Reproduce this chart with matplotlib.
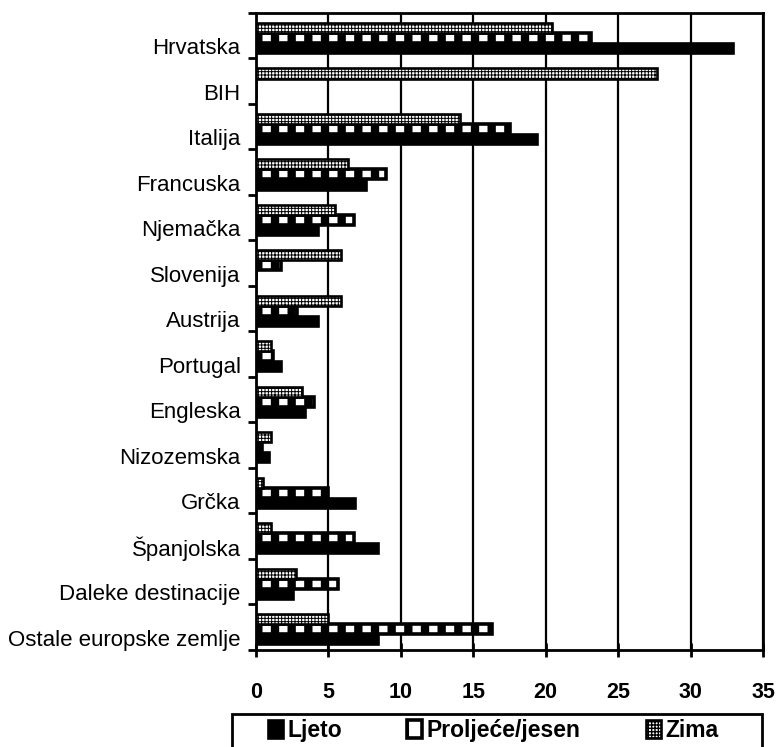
import matplotlib
matplotlib.use('Agg')
import matplotlib.pyplot as plt
import numpy as np
from matplotlib.patches import Rectangle

plt.rcParams['font.family'] = ['Liberation Sans', 'DejaVu Sans']

zemlje = ['Hrvatska', 'BIH', 'Italija', 'Francuska', 'Njemačka', 'Slovenija',
          'Austrija', 'Portugal', 'Engleska', 'Nizozemska', 'Grčka',
          'Španjolska', 'Daleke destinacije', 'Ostale europske zemlje']
ljeto = [32.9, 0, 19.4, 7.6, 4.3, 0, 4.3, 1.7, 3.4, 0.9, 6.8, 8.4, 2.55, 8.4]
proljece = [23.1, 0, 17.5, 9.0, 6.75, 1.7, 2.8, 1.2, 4.0, 0.4, 5.0, 6.75, 5.65, 16.3]
zima = [20.4, 27.7, 14.1, 6.35, 5.45, 5.9, 5.9, 1.0, 3.2, 1.0, 0.5, 1.0, 2.75, 5.0]
x_ticks = [0, 5, 10, 15, 20, 25, 30, 35]

fig = plt.figure(figsize=(7.77, 7.47), dpi=100)
ax = fig.add_axes([0.3295, 0.13, 0.6525, 0.8526])

y = np.arange(len(zemlje)) + 0.05
h = 0.22

def bars(vals, off, hatch, hlw, face, elw):
    with plt.rc_context({'hatch.linewidth': hlw}):
        b = ax.barh(y + off, vals, height=h, color=face, edgecolor='black',
                    linewidth=elw, hatch=hatch, zorder=3)
    for p in b:
        if hasattr(p, 'set_hatch_linewidth'):
            p.set_hatch_linewidth(hlw)
    return b

b1 = bars(ljeto, h, None, 1.0, 'black', 1.9)
b2 = bars(proljece, 0, '|', 6.0, 'white', 2.6)
b3 = bars(zima, -h, '+++++', 0.7, 'white', 1.9)

ax.set_ylim(len(zemlje) - 0.5, -0.5)
ax.set_xlim(0, 35)

# tick marks at category borders, labels a bit below the middle
ax.set_yticks(np.arange(len(zemlje) + 1) - 0.5)
ax.set_yticklabels([])
ax.set_yticks(np.arange(len(zemlje)) + 0.23, minor=True)
ax.set_yticklabels(zemlje, minor=True, fontsize=16)
ax.tick_params(axis='y', which='major', length=6, width=2, direction='out')
ax.tick_params(axis='y', which='minor', length=0, pad=11)

ax.set_xticks(x_ticks)
ax.set_xticklabels([str(t) for t in x_ticks], fontsize=15.5, fontweight='bold')
ax.tick_params(axis='x', length=10, width=2, direction='inout', pad=18)

ax.grid(axis='x', color='black', linewidth=1.6, zorder=0)
for s in ax.spines.values():
    s.set_linewidth(2)

# legend box below the plot, cut by the bottom edge
fig.patches.append(Rectangle((232 / 777, -0.02), 530 / 777, 0.02 + 33 / 747,
                             transform=fig.transFigure, facecolor='none',
                             edgecolor='black', linewidth=2))
leg = fig.legend([b1[0], b2[0], b3[0]], ['Ljeto', 'Proljeće/jesen', 'Zima'],
                 loc='upper left', bbox_to_anchor=(268 / 777, 1 - 719 / 747),
                 ncol=3, frameon=False, handlelength=0.65, handleheight=0.85,
                 handletextpad=0.2, borderaxespad=0, borderpad=0,
                 columnspacing=2.85, prop={'weight': 'bold', 'size': 16.5})

fig.savefig('out.png', dpi=100)
